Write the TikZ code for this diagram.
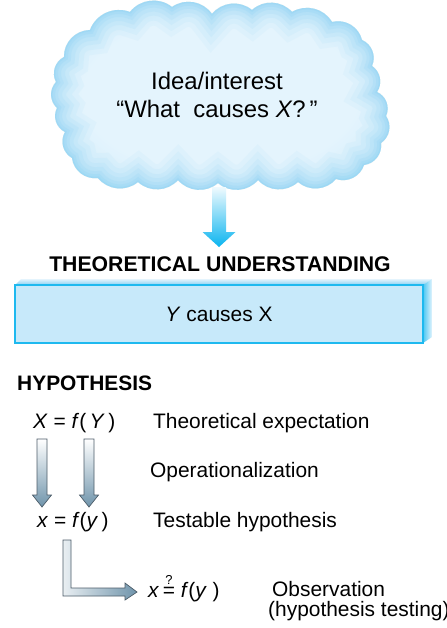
\documentclass[tikz,border=0pt]{standalone}
\usepackage{fontspec}
\setmainfont{Liberation Sans}
\usetikzlibrary{calc}
\definecolor{cloudin}{HTML}{E4F4FD}
\definecolor{cloudmid}{HTML}{C4E8F9}
\definecolor{cloudout}{HTML}{86D0F2}
\definecolor{cyanarrow}{HTML}{0AB4EF}
\definecolor{boxfill}{HTML}{C7E9FA}
\definecolor{boxline}{HTML}{1EB9EF}
\definecolor{steel}{HTML}{6F94AB}
\definecolor{arrowline}{HTML}{4D5D69}
\pgfdeclareradialshading{cloudshade}{\pgfpoint{0bp}{0bp}}{color(0bp)=(cloudin); color(20bp)=(cloudin); color(36bp)=(cloudmid); color(50bp)=(cloudout)}
\newcommand\mycloudpath{%
  (90,30) to[bend left=45] (130,12) to[bend left=45] (172,7) to[bend left=45] (212,14)
  to[bend left=45] (252,10) to[bend left=45] (292,12) to[bend left=45] (332,22)
  to[bend left=45] (362,40) to[bend left=45] (372,66) to[bend left=45] (377,92)
  to[bend left=45] (386,116) to[bend left=45] (381,143) to[bend left=45] (364,165)
  to[bend left=45] (336,179) to[bend left=45] (298,182) to[bend left=45] (258,180)
  to[bend left=45] (218,183) to[bend left=45] (178,180) to[bend left=45] (138,182)
  to[bend left=45] (98,178) to[bend left=45] (72,158) to[bend left=45] (65,132)
  to[bend left=45] (57,108) to[bend left=45] (56,82) to[bend left=45] (64,57)
  to[bend left=45] (90,30) -- cycle}
\tikzset{
  txt/.style={inner sep=0pt, font=\fontsize{21}{25}\selectfont},
  greyarrow/.style={draw=arrowline, line width=0.7bp, top color=white, bottom color=steel},
}
\begin{document}
\begin{tikzpicture}[x=1bp,y=-1bp]
\useasboundingbox (0,0) rectangle (447,628);
\fill[white] (0,0) rectangle (447,628);

% cloud
\begin{scope}
  \clip \mycloudpath;
  \shade[shading=cloudshade] \mycloudpath;
  \foreach \w/\o in {50/0.07, 40/0.09, 30/0.11, 22/0.13, 14/0.16, 8/0.2, 3/0.25}
    \draw[cloudout, line width=\w bp, opacity=\o] \mycloudpath;
\end{scope}
\node[txt, font=\fontsize{24}{29}\selectfont, align=center] (idea) at (217,95)
  {Idea/interest\\“What\ \ causes \textit{X}?\,”};

% arrow from cloud to theory
\coordinate (a1top) at (219,187);
\coordinate (a1tip) at (219,247);
\shade[top color=cyanarrow!6, bottom color=cyanarrow]
  ($(a1top)+(-7,0)$) -- ($(a1top)+(7,0)$) -- ($(a1tip)+(7,-15)$)
  -- ($(a1tip)+(16.5,-15)$) -- (a1tip) -- ($(a1tip)+(-16.5,-15)$)
  -- ($(a1tip)+(-7,-15)$) -- cycle;

\node[txt, font=\fontsize{21.3}{25}\bfseries] (theo) at (220,264) {THEORETICAL UNDERSTANDING};

% 3D box
\shade[top color=cloudin, bottom color=cloudout]
  (15,285) -- (21,279) -- (432,279) -- (423,285) -- cycle;
\shade[left color=boxline!80, right color=cloudin]
  (423,285) -- (432,279) -- (432,337) -- (423,343) -- cycle;
\node[txt, draw=boxline, line width=2bp, fill=boxfill, minimum width=408bp, minimum height=58bp]
  (box) at (219,314) {\textit{Y} causes X};

\node[txt, font=\fontsize{21}{25}\bfseries, anchor=base west] (hyp) at (17,390) {HYPOTHESIS};

% hypothesis rows
\node[txt, anchor=base west] (eq1) at (33,428) {\textit{X} = \textit{f}(\,\textit{Y}\,)};
\node[txt, anchor=base west] (lab1) at (153,428) {Theoretical expectation};
\node[txt, anchor=base west] (lab2) at (150,477) {Operationalization};
\node[txt, anchor=base west] (eq2) at (37,527) {\textit{x} = \textit{f}(\textit{y}\,)};
\node[txt, anchor=base west] (lab3) at (153,527) {Testable hypothesis};
\node[txt, anchor=base west] (eq3) at (148,597)
  {\textit{x}\,$\stackrel{\mbox{\fontsize{13}{13}\selectfont ?}}{\mbox{=}}$\;\textit{f}(\textit{y}\;)};
\node[txt, anchor=base west] (lab4) at (272,596) {Observation};
\node[txt, anchor=base west] (lab5) at (268,616) {(hypothesis testing)};

% down arrows
\foreach \cx/\nm in {42/d1, 89/d2} {
  \coordinate (\nm top) at (\cx,439);
  \coordinate (\nm tip) at (\cx,507);
  \path[greyarrow]
    ($(\nm top)+(-5,0)$) -- ($(\nm top)+(5,0)$) -- ($(\nm tip)+(5,-12)$)
    -- ($(\nm tip)+(9.5,-12)$) -- (\nm tip) -- ($(\nm tip)+(-9.5,-12)$)
    -- ($(\nm tip)+(-5,-12)$) -- cycle;
}

% L arrow
\coordinate (ltop) at (67,540);
\coordinate (ltip) at (137,592);
\path[draw=arrowline, line width=0.7bp, left color=white!85!steel, right color=steel]
  ($(ltop)+(-4,0)$) -- ($(ltop)+(4,0)$) -- ($(ltip)+(-66,-4)$)
  -- ($(ltip)+(-12,-4)$) -- ($(ltip)+(-12,-9)$) -- (ltip)
  -- ($(ltip)+(-12,8)$) -- ($(ltip)+(-12,4)$)
  -- ($(ltip)+(-74,4)$) -- cycle;
\end{tikzpicture}
\end{document}
